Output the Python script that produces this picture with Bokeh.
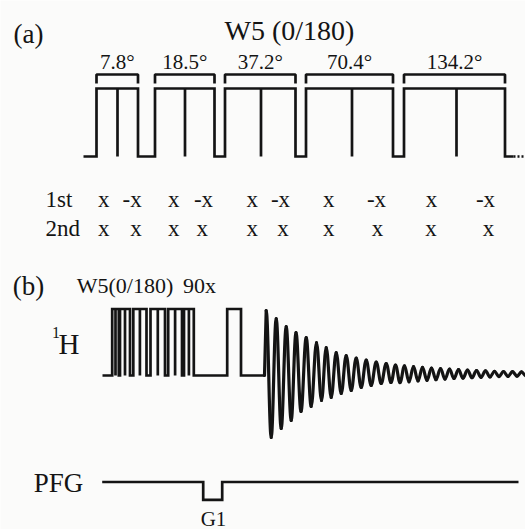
from bokeh.plotting import figure
from bokeh.models import Range1d
from bokeh.core.properties import value
from bokeh.embed import file_html
from bokeh.resources import INLINE

# ---------------- data (diagram units) ----------------
# (a) W5 (0/180) pulse train
a_base = 156
a_top = 88
a_start_x = 83
a_end_solid = 513
a_end_dots = 525
a_block_start = [96, 154.5, 224.5, 305.5, 403.5]
a_block_end = [137.5, 214, 295, 392.5, 504.5]
a_block_mid = [117, 184.5, 260.5, 351.5, 456]
a_bracket_top = 74
a_bracket_foot = 83
angle_labels = ["7.8°", "18.5°", "37.2°", "70.4°", "134.2°"]
angle_label_y = 61

row_labels = ["1st", "2nd"]
row_label_x = 45
row_y = [199, 228]
phase_1st = ["x", "-x", "x", "-x", "x", "-x", "x", "-x", "x", "-x"]
phase_1st_x = [103.3, 131.7, 173.3, 203, 251.7, 280, 328.3, 376, 431, 485]
phase_2nd = ["x", "x", "x", "x", "x", "x", "x", "x", "x", "x"]
phase_2nd_x = [103.3, 135.5, 173.3, 201.7, 251.7, 282.5, 328.3, 377, 430.5, 488]

# (b) pulse sequence
h_base = 375
h_top = 308.5
h_start_x = 102
b_block_start = [111.7, 119.5, 132.8, 150, 167.7, 183.5]
b_block_end = [118.3, 129.5, 146, 164.5, 181.5, 193.3]
b_block_mid = [115, 124.5, 139.4, 157.3, 174.6, 188.4]
p90_start, p90_end = 226.7, 240.5
fid_start_x = 264

# FID extremes (x, y)
fid_x = [265.7, 270.7, 275.7, 280.7, 285.7, 290.7, 295.5, 300.5, 305.7, 310.7,
         316, 321, 325.7, 330.7, 335.7, 340.7, 345.7, 350.7, 355.7, 360.7,
         365.7, 370.7, 375.7, 380.7, 385.7, 390.5, 395, 399.5, 404, 408.5,
         413, 417.5, 422, 426.5, 431, 435.5, 440, 444.5, 449, 453.5,
         458, 462.5, 467, 471.5, 476, 480.5, 485, 489.5, 494, 498.5,
         503, 507.5, 512, 516.5, 521, 525.5]
fid_y = [310, 437, 318, 428, 326, 420, 332, 411, 337, 406,
         342, 400, 347, 397, 352, 393, 355, 390, 357.5, 387,
         359.5, 385, 361.5, 383, 363, 382, 364.5, 382.1, 365.3, 381.3,
         366.1, 380.5, 366.9, 379.8, 367.5, 379.2, 368.1, 378.6, 368.7, 378,
         369.2, 377.6, 369.6, 377.2, 370, 376.8, 370.4, 376.4, 370.8, 376.1,
         371, 375.9, 371.2, 375.7, 371.4, 375.5]

pfg_y = 481.5
pfg_start_x, pfg_end_x = 101.7, 518
g1_start, g1_end = 202.7, 221.7
g1_bottom = 499.3

# ---------------- figure ----------------
BG = "#fbfbfa"
INK = "#141414"
FONT = value("Liberation Serif")

p = figure(width=525, height=529, x_range=Range1d(0, 525), y_range=Range1d(529, 0),
           x_axis_type=None, y_axis_type=None, min_border=0,
           toolbar_location=None, output_backend="svg")
p.grid.visible = False
p.outline_line_color = None
p.background_fill_color = BG
p.border_fill_color = BG


def train(x0, starts, ends, base, top, x1):
    xs, ys = [x0], [base]
    for s, e in zip(starts, ends):
        xs += [s, s, e, e]
        ys += [base, top, top, base]
    xs.append(x1)
    ys.append(base)
    return xs, ys


def label(x, y, t, size, align="center"):
    p.text(x=x, y=y, text=t, text_font=FONT, text_font_size=size,
           text_align=align, text_baseline="middle", text_color=INK)


LW = 2.7

# (a) train
xs, ys = train(a_start_x, a_block_start, a_block_end, a_base, a_top, a_end_solid)
p.line(xs, ys, line_color=INK, line_width=LW, line_join="miter")
p.segment(x0=a_block_mid, y0=[a_top] * 5, x1=a_block_mid, y1=[a_base] * 5,
          line_color=INK, line_width=LW)
p.line([a_end_solid, a_end_dots], [a_base, a_base], line_color=INK, line_width=LW,
       line_dash="2 2")
p.multi_line(xs=[[s, s, e, e] for s, e in zip(a_block_start, a_block_end)],
             ys=[[a_bracket_foot, a_bracket_top, a_bracket_top, a_bracket_foot]] * 5,
             line_color=INK, line_width=LW)
label([(s + e) / 2 for s, e in zip(a_block_start, a_block_end)],
      [angle_label_y] * 5, angle_labels, "21px")
label([289], [30], ["W5 (0/180)"], "28px")
label([28], [33], ["(a)"], "27px")

# phase rows
label([row_label_x] * 2, row_y, row_labels, "23px", "left")
label(phase_1st_x, [row_y[0]] * len(phase_1st), phase_1st, "23px")
label(phase_2nd_x, [row_y[1]] * len(phase_2nd), phase_2nd, "23px")

# (b) 1H channel
xs, ys = train(h_start_x, b_block_start + [p90_start], b_block_end + [p90_end],
               h_base, h_top, fid_start_x)
p.line(xs, ys, line_color=INK, line_width=LW, line_join="miter")
p.segment(x0=b_block_mid, y0=[h_top] * len(b_block_mid), x1=b_block_mid,
          y1=[h_base] * len(b_block_mid), line_color=INK, line_width=LW)

# FID: straight rise to the first extreme, then smooth arcs between extremes
p.line([fid_start_x, fid_x[0]], [h_base, fid_y[0]], line_color=INK, line_width=3.2,
       line_cap="round")
bx0, by0 = fid_x[:-1], fid_y[:-1]
bx1, by1 = fid_x[1:], fid_y[1:]
k = 0.38
p.bezier(x0=bx0, y0=by0, x1=bx1, y1=by1,
         cx0=[a + (b - a) * k for a, b in zip(bx0, bx1)], cy0=by0,
         cx1=[b - (b - a) * k for a, b in zip(bx0, bx1)], cy1=by1,
         line_color=INK, line_width=3.2, line_cap="round")

label([28], [285], ["(b)"], "27px")
label([124.5], [285], ["W5(0/180)"], "22px")
label([199], [285], ["90x"], "22px")
label([58], [343], ["H"], "29px", "left")
label([55.5], [332], ["1"], "16px")

# PFG channel
p.line([pfg_start_x, g1_start, g1_start, g1_end, g1_end, pfg_end_x],
       [pfg_y, pfg_y, g1_bottom, g1_bottom, pfg_y, pfg_y],
       line_color=INK, line_width=LW, line_join="miter")
label([58], [482], ["PFG"], "27px")
label([213], [518], ["G1"], "21px")

open("out.html", "w").write(file_html(p, INLINE))
